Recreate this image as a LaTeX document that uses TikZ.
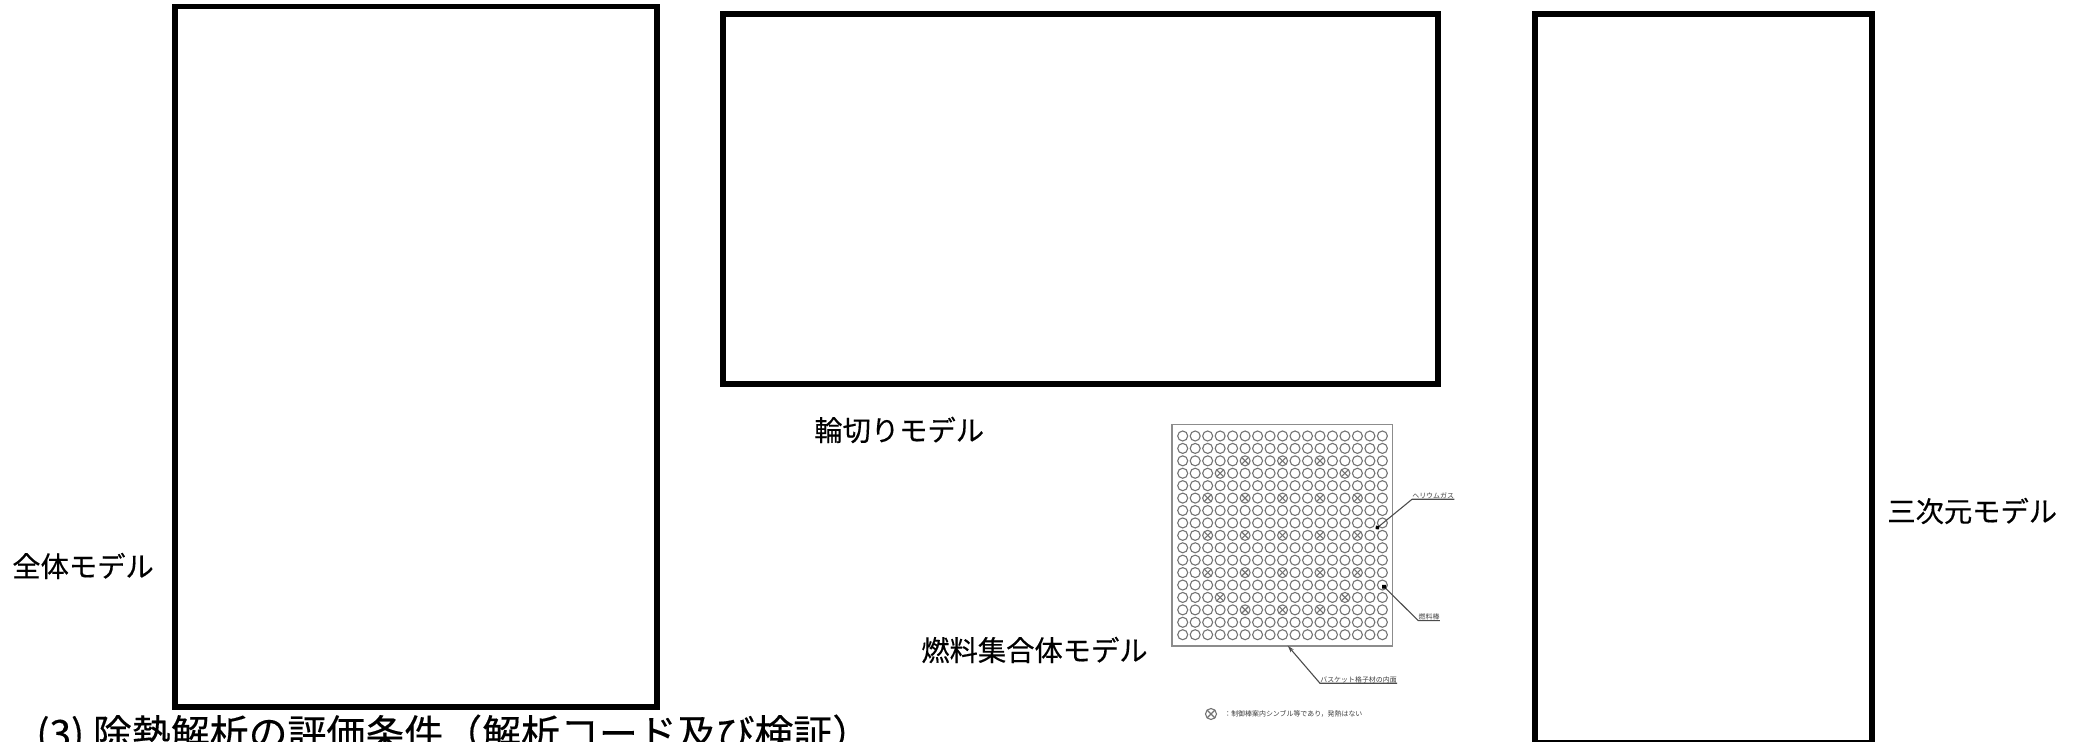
\documentclass[tikz,border=0pt]{standalone}
\usepackage{fontspec}
\setmainfont{Noto Sans CJK JP}
\newfontfamily\heavyfont[FakeBold=0.35]{Noto Sans CJK JP}
\usetikzlibrary{arrows.meta}
\tikzset{
  frame/.style={draw=black,line width=5.5*0.02cm,line join=miter},
  modelname/.style={anchor=west,inner sep=0pt,font=\heavyfont\fontsize{16.1pt}{16.1pt}\selectfont},
  tinylabel/.style={anchor=south west,inner xsep=0pt,inner ysep=0.3*0.02cm,text=black!75,font=\fontsize{3.95pt}{4pt}\selectfont},
  rod/.style={draw=black!55,line width=1.1*0.02cm},
  leader/.style={draw=black!70,line width=1.1*0.02cm}
}
\begin{document}
\begin{tikzpicture}[x=0.02cm,y=-0.02cm]
\useasboundingbox (0,0) rectangle (2080,742);
\clip (0,0) rectangle (2080,742);
\fill [white] (0,0) rectangle (2080,742);
% frames
\draw [frame] (175,6.5) rectangle (657,707);
\draw [frame] (723,14) rectangle (1438,384);
\draw [frame] (1535,14) rectangle (1872,743);
% model names
\node [modelname] (whole) at (12,566) {全体モデル};
\node [modelname] (slice) at (814,430) {輪切りモデル};
\node [modelname] (assembly) at (921,650) {燃料集合体モデル};
\node [modelname] (solid) at (1887,511) {三次元モデル};
\node [anchor=west,inner sep=0pt,font=\heavyfont\fontsize{22.15pt}{23pt}\selectfont] (title) at (36,735)
  {(3) 除熱解析の評価条件（解析コード及び検証）};
% fuel assembly
\draw [draw=black!45,line width=1.5*0.02cm] (1172,424.5) rectangle (1392.7,646);
\foreach \col in {0,...,16}
  \foreach \row in {0,...,16}
    \draw [rod] (1182.7+12.48*\col,436+12.42*\row) circle (5);
\foreach \col/\row in {5/2,8/2,11/2,3/3,13/3,
    2/5,5/5,8/5,11/5,14/5,2/8,5/8,8/8,11/8,14/8,2/11,5/11,8/11,11/11,14/11,
    3/13,13/13,5/14,8/14,11/14} {
  \coordinate (X) at (1182.7+12.48*\col,436+12.42*\row);
  \draw [rod] (X) ++(-3.5,-3.5) -- ++(7,7);
  \draw [rod] (X) ++(3.5,-3.5) -- ++(-7,7);
}
% leaders
\coordinate (helium) at (1375.7,529);
\coordinate (fuel) at (1382.3,585);
\coordinate (basket) at (1287.7,645.7);
\node [tinylabel] (heliumlabel) at (1412,499.3) {ヘリウムガス};
\node [tinylabel] (fuellabel) at (1418.3,620.7) {燃料棒};
\node [tinylabel] (basketlabel) at (1320,683.3) {バスケット格子材の内面};
\draw [leader,{Circle[length=4.5*0.02cm,black]}-] (helium) -- (heliumlabel.south west) -- (heliumlabel.south east);
\draw [leader,{Circle[length=5*0.02cm,black]}-] (fuel) -- (fuellabel.south west) -- (fuellabel.south east);
\draw [leader,{Stealth[length=7*0.02cm,width=4*0.02cm]}-] (basket) -- (basketlabel.south west) -- (basketlabel.south east);
% legend
\coordinate (mark) at (1211,714);
\draw [rod] (mark) circle (5.5);
\draw [rod] (mark) ++(-3.9,-3.9) -- ++(7.8,7.8);
\draw [rod] (mark) ++(3.9,-3.9) -- ++(-7.8,7.8);
\node [tinylabel,anchor=west] (legend) at (1224,714) {：制御棒案内シンブル等であり，発熱はない};
\end{tikzpicture}
\end{document}
